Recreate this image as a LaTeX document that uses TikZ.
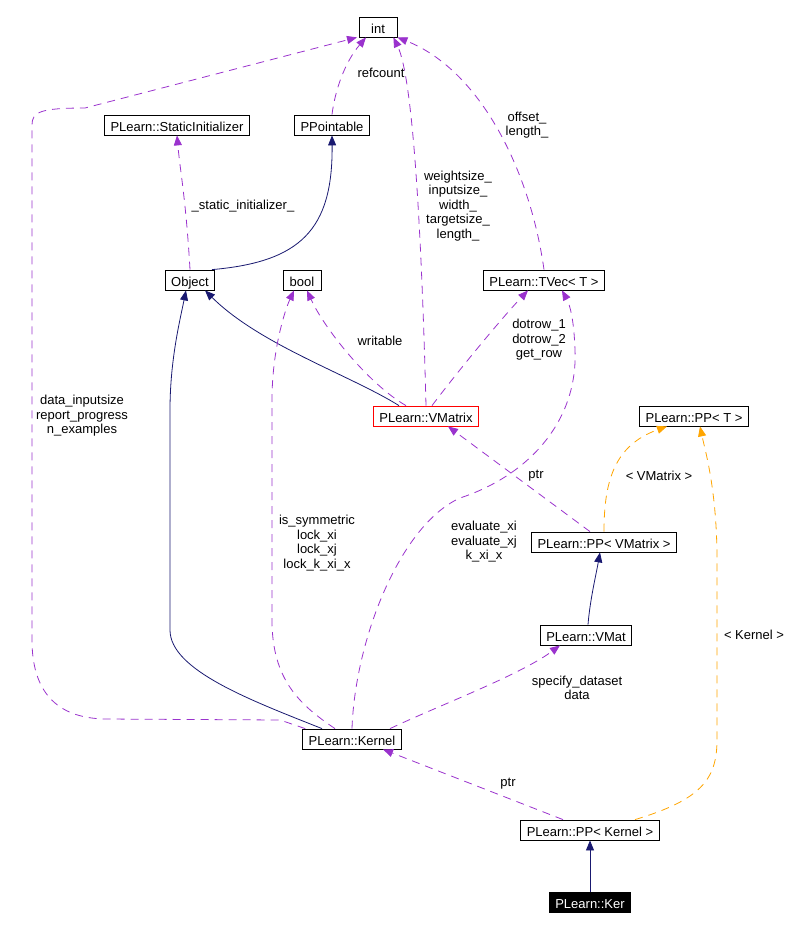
\documentclass[tikz,border=0pt]{standalone}
\usepackage{fontspec}
\setmainfont{Liberation Sans}
\usetikzlibrary{arrows.meta}

\definecolor{purp}{HTML}{9A32CD}
\definecolor{navy}{HTML}{191970}
\definecolor{orng}{HTML}{FFA500}

\begin{document}
\begin{tikzpicture}[x=1pt,y=-1pt,
    cls/.style={draw,line width=0.8pt,minimum height=20pt,minimum width=38pt,inner xsep=6pt,inner ysep=0pt,text height=12pt,text depth=0pt,font=\fontsize{13}{14.5}\selectfont},
    lbl/.style={align=center,inner sep=0pt,font=\fontsize{13}{14.5}\selectfont},
    mem/.style={draw=purp,line width=0.8pt,dash pattern=on 8pt off 6pt,-{Triangle[length=10pt,width=8pt]}},
    tpl/.style={draw=orng,line width=0.8pt,dash pattern=on 8pt off 6pt,-{Triangle[length=10pt,width=8pt]}},
    inh/.style={draw=navy,line width=0.8pt,-{Triangle[length=10pt,width=8pt]}}]
    \useasboundingbox (0,0) rectangle (794,929);

    % Classes
    \node[cls] (int) at (378,27) {int};
    \node[cls] (si) at (177,125) {PLearn::StaticInitializer};
    \node[cls] (ppt) at (332,125) {PPointable};
    \node[cls] (obj) at (190,280) {Object};
    \node[cls] (bool) at (302,280) {bool};
    \node[cls] (tvec) at (544,280) {PLearn::TVec< T >};
    \node[cls,draw=red] (vmx) at (426,416) {PLearn::VMatrix};
    \node[cls] (ppT) at (694,416) {PLearn::PP< T >};
    \node[cls] (ppv) at (604,542) {PLearn::PP< VMatrix >};
    \node[cls] (vmat) at (586,635) {PLearn::VMat};
    \node[cls] (ker) at (352,739) {PLearn::Kernel};
    \node[cls] (ppk) at (590,830) {PLearn::PP< Kernel >};
    \node[cls,fill=black,text=white] (kr) at (590,902) {PLearn::Ker};

    % Edge labels
    \node[lbl] (l-ref) at (381,73) {refcount};
    \node[lbl] (l-si) at (243,206) {\_static\_initializer\_};
    \node[lbl] (l-off) at (527,125) {offset\_\\length\_};
    \node[lbl] (l-wsz) at (458,206) {weightsize\_\\inputsize\_\\width\_\\targetsize\_\\length\_};
    \node[lbl] (l-din) at (82,416) {data\_inputsize\\report\_progress\\n\_examples};
    \node[lbl] (l-wr) at (380,341) {writable};
    \node[lbl] (l-sym) at (317,543) {is\_symmetric\\lock\_xi\\lock\_xj\\lock\_k\_xi\_x};
    \node[lbl] (l-dot) at (539,340) {dotrow\_1\\dotrow\_2\\get\_row};
    \node[lbl] (l-ptr1) at (536,476) {ptr};
    \node[lbl] (l-tvm) at (659,476) {< VMatrix >};
    \node[lbl] (l-ev) at (484,542) {evaluate\_xi\\evaluate\_xj\\k\_xi\_x};
    \node[lbl] (l-spec) at (577,688) {specify\_dataset\\data};
    \node[lbl] (l-tk) at (754,635) {< Kernel >};
    \node[lbl] (l-ptr2) at (508,784) {ptr};

    % Inheritance
    \draw[inh] ([xshift=22]obj.north) .. controls (300,262) and (333,230) .. (ppt.south);
    \draw[inh] ([xshift=-27]vmx.north) .. controls (350,375) and (260,345) .. ([xshift=15]obj.south);
    \draw[inh] ([xshift=-30]ker.north) .. controls (250,700) and (170,670) .. (170,630) -- (170,410) .. controls (170,360) and (180,320) .. ([xshift=-4]obj.south);
    \draw[inh] ([xshift=2]vmat.north) .. controls (590,600) and (596,575) .. ([xshift=-4]ppv.south);
    \draw[inh] (kr.north) -- (ppk.south);

    % Members
    \draw[mem] (ppt.north) .. controls (335,90) and (345,62) .. ([xshift=-12]int.south);
    \draw[mem] (obj.north) .. controls (186,200) and (180,170) .. (si.south);
    \draw[mem] (vmx.north) .. controls (422,250) and (414,80) .. ([xshift=-4]int.south east);
    \draw[mem] (tvec.north) .. controls (530,170) and (480,70) .. (int.south east);
    \draw[mem] ([xshift=3]ker.north west) -- (280,720) -- (105,719) .. controls (55,718) and (32,690) .. (32,640) -- (32,125) .. controls (32,112) and (40,108) .. (85,108) -- ([xshift=-21]int.south);
    \draw[mem] ([xshift=-20]vmx.north) .. controls (370,385) and (325,330) .. ([xshift=5]bool.south);
    \draw[mem] ([xshift=-17]ker.north) .. controls (300,705) and (272,680) .. (272,620) -- (272,400) .. controls (272,350) and (285,310) .. ([xshift=-8]bool.south);
    \draw[mem] ([xshift=6]vmx.north) .. controls (455,375) and (500,320) .. ([xshift=-16]tvec.south);
    \draw[mem] (ker.north) .. controls (355,640) and (400,525) .. (460,498) .. controls (530,475) and (578,420) .. (575,350) .. controls (574,320) and (570,305) .. ([xshift=18]tvec.south);
    \draw[mem] ([xshift=-14]ppv.north) -- ([xshift=22]vmx.south);
    \draw[mem] ([xshift=38]ker.north) .. controls (440,705) and (520,675) .. ([xshift=-26]vmat.south);
    \draw[mem] ([xshift=-27]ppk.north) -- ([xshift=31]ker.south);

    % Template instances
    \draw[tpl] (ppv.north) .. controls (604,480) and (615,445) .. ([xshift=-27]ppT.south);
    \draw[tpl] ([xshift=45]ppk.north) .. controls (700,800) and (717,780) .. (717,740) -- (717,560) .. controls (717,490) and (705,450) .. ([xshift=6]ppT.south);
\end{tikzpicture}
\end{document}
